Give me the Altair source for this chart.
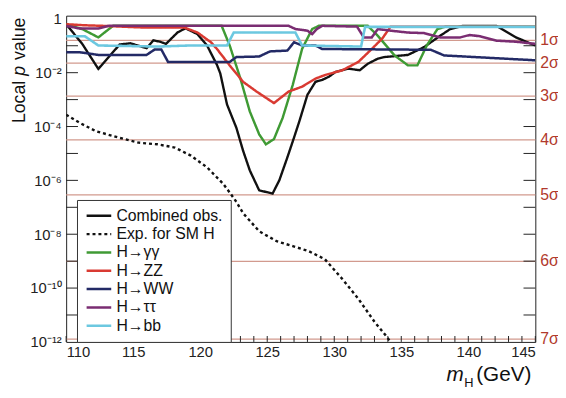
import altair as alt
import pandas as pd

FONT = "Liberation Sans"

# ---------------- data ----------------
mass_range = [110, 145]
p_domain = [1e-12, 1.31]

comb_m = [110.0, 111.2, 112.4, 114.0, 114.8, 116.0, 116.5, 117.0, 117.45, 118.3, 118.9, 119.8,
          120.5, 121.25, 121.5, 122.0, 122.7, 123.2, 123.7, 124.4, 124.9, 125.4, 125.9, 126.5,
          127.0, 127.4, 128.0, 128.6, 129.1, 129.6, 130.1, 131.05, 131.9, 132.5, 133.25, 133.75,
          135.5, 136.7, 137.9, 138.65, 139.6, 142.1, 143.55, 145.0]
comb_logp = [-0.2, -0.93, -1.86, -0.95, -0.91, -1.09, -0.8, -0.85, -0.93, -0.51, -0.35, -0.57,
             -0.98, -1.71, -2.03, -3.18, -4.05, -4.9, -5.63, -6.37, -6.43, -6.49, -6.0, -5.15,
             -4.41, -3.8, -2.82, -2.34, -2.27, -2.15, -1.97, -1.85, -1.91, -1.67, -1.48, -1.42,
             -1.34, -1.05, -0.63, -0.38, -0.26, -0.26, -0.69, -0.99]

exp_m = [110.0, 111.0, 112.2, 113.9, 115.4, 116.8, 118.1, 119.3, 120.5, 121.7, 122.2, 122.7,
         123.2, 124.4, 125.7, 126.9, 128.1, 129.3, 130.6, 131.8, 133.0, 134.0, 134.3]
exp_logp = [-3.56, -3.86, -4.17, -4.41, -4.6, -4.66, -4.78, -5.08, -5.51, -6.12, -6.45, -6.8,
            -7.22, -7.89, -8.26, -8.44, -8.63, -8.93, -9.66, -10.4, -11.25, -11.86, -12.1]

gg_m = [110.0, 111.2, 112.4, 113.5, 121.6, 122.2, 123.0, 123.7, 124.4, 124.9, 125.5, 126.15,
        126.9, 127.6, 128.35, 128.85, 132.5, 133.25, 134.5, 135.5, 136.2, 136.9, 137.7, 138.3, 145.0]
gg_logp = [-0.2, -0.38, -0.69, -0.26, -0.26, -0.99, -2.22, -3.44, -4.29, -4.66, -4.47, -3.68,
           -2.46, -1.12, -0.38, -0.26, -0.26, -0.63, -1.36, -1.73, -1.73, -0.99, -0.38, -0.29, -0.29]

zz_m = [110.0, 111.4, 112.7, 115.6, 118.8, 119.8, 120.8, 121.25, 122.2, 123.2, 124.2, 125.5,
        126.6, 127.6, 128.6, 129.3, 130.6, 131.8, 132.8, 133.6, 134.2, 145.0]
zz_logp = [-0.2, -0.24, -0.26, -0.32, -0.32, -0.51, -0.87, -1.12, -1.73, -2.34, -2.7, -3.13,
           -2.7, -2.52, -2.22, -2.09, -1.91, -1.6, -1.12, -0.72, -0.29, -0.29]

ww_m = [110.0, 111.0, 112.4, 116.0, 116.6, 117.1, 117.6, 122.2, 122.7, 124.4, 125.2, 126.5,
        127.0, 127.6, 128.6, 129.1, 137.2, 138.2, 145.0]
ww_logp = [-1.24, -1.24, -1.34, -1.34, -1.14, -1.14, -1.6, -1.6, -1.42, -1.4, -1.21, -1.18,
           -0.87, -0.99, -0.99, -1.12, -1.15, -1.36, -1.54]

tt_m = [110.0, 111.0, 112.4, 113.2, 126.6, 127.1, 128.0, 128.35, 128.7, 129.1, 131.7, 132.2,
        132.8, 133.25, 134.2, 135.5, 136.7, 137.9, 139.4, 140.1, 140.9, 142.1, 143.55, 145.0]
tt_logp = [-0.26, -0.36, -0.36, -0.26, -0.26, -0.38, -0.44, -0.57, -0.38, -0.26, -0.29, -0.69,
           -0.69, -0.38, -0.44, -0.51, -0.53, -0.69, -0.69, -0.6, -0.65, -0.81, -0.85, -0.93]

bb_m = [110.0, 111.4, 112.4, 116.8, 119.3, 122.0, 122.5, 127.1, 127.6, 132.0, 132.3, 145.0]
bb_logp = [-0.65, -0.65, -0.99, -1.03, -0.99, -0.99, -0.51, -0.51, -0.99, -1.03, -0.3, -0.3]

series_names = ["Combined obs.", "Exp. for SM H", "H→γγ", "H→ZZ", "H→WW", "H→ττ", "H→bb"]
series_colors = ["#111111", "#111111", "#3f9a34", "#d93a32", "#232a66", "#7a2d72", "#6cc8e0"]
series_dash = [[1, 0], [3, 3], [1, 0], [1, 0], [1, 0], [1, 0], [1, 0]]
series_width = [2.4, 2.6, 1.8, 1.8, 1.8, 1.8, 1.6]

sigma_p = [0.1587, 0.02275, 1.35e-3, 3.17e-5, 2.87e-7, 9.87e-10, 1.28e-12]
sigma_lbl = ["1σ", "2σ", "3σ", "4σ", "5σ", "6σ", "7σ"]

y_tick_vals = [1, 1e-2, 1e-4, 1e-6, 1e-8, 1e-10, 1e-12]
y_tick_lbls = ["1", "10⁻²", "10⁻⁴", "10⁻⁶", "10⁻⁸", "10⁻¹⁰", "10⁻¹²"]
decade_vals = [1e-1, 1e-2, 1e-3, 1e-4, 1e-5, 1e-6, 1e-7, 1e-8, 1e-9, 1e-10, 1e-11]
x_tick_vals = [110, 115, 120, 125, 130, 135, 140, 145]
x_minor = list(range(110, 146))

# ---------------- tables ----------------
pairs = [(comb_m, comb_logp), (exp_m, exp_logp), (gg_m, gg_logp), (zz_m, zz_logp),
         (ww_m, ww_logp), (tt_m, tt_logp), (bb_m, bb_logp)]
rows = []
for k, (ms, lps) in enumerate(pairs):
    for i, (m, lp) in enumerate(zip(ms, lps)):
        rows.append({"series": series_names[k], "m": m, "p": 10 ** lp, "order": i})
curves = pd.DataFrame(rows)
sigmas = pd.DataFrame({"p": sigma_p, "lbl": sigma_lbl})
decades = pd.DataFrame({"p": decade_vals})
minor = pd.DataFrame({"m": x_minor})

W, H = 476, 331

label_expr = ""
for v, l in zip(y_tick_vals[:-1], y_tick_lbls[:-1]):
    label_expr += f"datum.value > {v / 10:g} ? '{l}' : "
label_expr += f"'{y_tick_lbls[-1]}'"

xscale = alt.Scale(domain=mass_range, nice=False, zero=False)
yscale = alt.Scale(type="log", domain=p_domain, nice=False)
xaxis = alt.Axis(values=x_tick_vals, title=None, grid=False, ticks=False, domain=False,
                 labelFontSize=15, labelFont=FONT, labelColor="#222", labelPadding=3)
yaxis = alt.Axis(values=y_tick_vals, labelExpr=label_expr, title=None, grid=False, ticks=False,
                 domain=False, labelFontSize=15, labelFont=FONT, labelColor="#222", labelPadding=5)

sig_rules = alt.Chart(sigmas).mark_rule(color="#d29a8e", strokeWidth=1.3).encode(
    y=alt.Y("p:Q", scale=yscale, axis=yaxis)
)

sig_text = alt.Chart(sigmas).mark_text(align="left", baseline="middle", fontSize=16, font=FONT,
                                       color="#b1392c").encode(
    y=alt.Y("p:Q", scale=yscale, axis=yaxis), x=alt.value(W + 5), text="lbl:N"
)

legend_cfg = dict(orient="none", legendX=11, legendY=187, title=None,
                  symbolType="M-1,0H3", symbolSize=156, symbolStrokeWidth=2,
                  labelFontSize=16, labelFont=FONT, labelColor="#111",
                  labelLimit=300, labelOffset=16, rowPadding=2.6,
                  strokeColor="#333", fillColor="white", padding=8)

lines = alt.Chart(curves).mark_line(clip=True).encode(
    x=alt.X("m:Q", scale=xscale, axis=xaxis),
    y=alt.Y("p:Q", scale=yscale, axis=yaxis),
    order="order:Q",
    color=alt.Color("series:N", scale=alt.Scale(domain=series_names, range=series_colors),
                    legend=alt.Legend(**legend_cfg)),
    strokeDash=alt.StrokeDash("series:N", scale=alt.Scale(domain=series_names, range=series_dash),
                              legend=alt.Legend(**legend_cfg)),
    strokeWidth=alt.StrokeWidth("series:N", scale=alt.Scale(domain=series_names, range=series_width),
                                legend=None),
)

left_ticks = alt.Chart(decades).mark_rule(color="#222", strokeWidth=1).encode(
    y=alt.Y("p:Q", scale=yscale, axis=yaxis), x=alt.value(0), x2=alt.value(12)
)
right_ticks = alt.Chart(decades).mark_rule(color="#222", strokeWidth=1).encode(
    y=alt.Y("p:Q", scale=yscale, axis=yaxis), x=alt.value(W - 12), x2=alt.value(W)
)
bottom_ticks = alt.Chart(minor).mark_rule(color="#222", strokeWidth=1).encode(
    x=alt.X("m:Q", scale=xscale, axis=xaxis), y=alt.value(H - 6), y2=alt.value(H)
)


def title_piece(text, px, py, size, style="normal", angle=0):
    kw = dict(align="left", baseline="alphabetic", font=FONT, color="#111",
              fontSize=size, fontStyle=style, text=text)
    if angle:
        kw["angle"] = angle
    return alt.Chart(pd.DataFrame({"t": [text]})).mark_text(**kw).encode(
        x=alt.value(px), y=alt.value(py)
    )


ytitle_parts = [title_piece("Local", -42, 109, 18, angle=270),
                title_piece("p", -42, 61, 18, "italic", angle=270),
                title_piece("value", -42, 45, 18, angle=270)]
xtitle_parts = [title_piece("m", 386, 371, 21, "italic"),
                title_piece("H", 404, 377, 13),
                title_piece("(GeV)", 416, 371, 21)]

chart = alt.layer(
    sig_rules, left_ticks, right_ticks, bottom_ticks, lines, sig_text,
    *ytitle_parts, *xtitle_parts
).resolve_scale(
    x="shared", y="shared"
).properties(
    width=W, height=H,
    autosize=alt.AutoSizeParams(type="none"),
    padding={"left": 59, "top": 5, "right": 23, "bottom": 46},
).configure_view(stroke="#222", strokeWidth=1)

chart.save("out.html", embed_options={"renderer": "svg", "actions": False})
